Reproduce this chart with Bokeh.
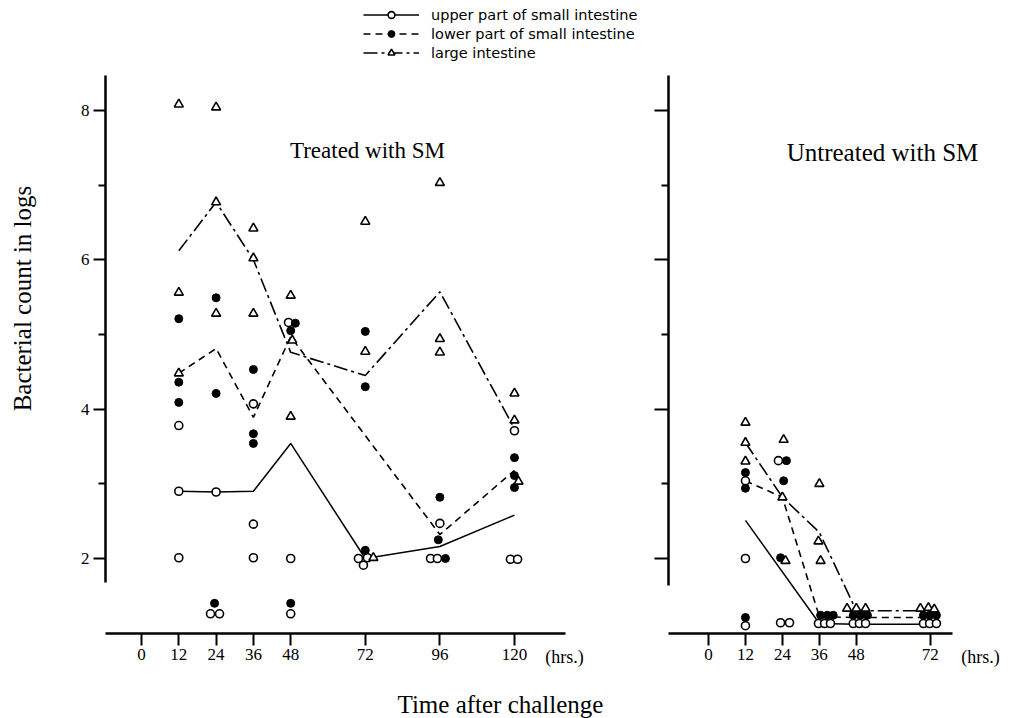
import math
from bokeh.plotting import figure
from bokeh.models import FixedTicker, Label, Legend, LegendItem, Range1d
from bokeh.layouts import row
from bokeh.embed import file_html
from bokeh.resources import INLINE

SERIF = "Liberation Serif"
SANS = "DejaVu Sans"

# ---------------- data ----------------
series_names = ["upper part of small intestine",
                "lower part of small intestine",
                "large intestine"]

# Treated with SM : mean lines
treated_hours = [12, 24, 36, 48, 72, 96, 120]
treated_upper_line = [2.90, 2.89, 2.90, 3.54, 2.00, 2.16, 2.58]
treated_lower_hours = [12, 24, 36, 48, 96, 120]
treated_lower_line = [4.48, 4.81, 3.89, 4.97, 2.32, 3.18]
treated_large_line = [6.12, 6.77, 6.00, 4.76, 4.45, 5.57, 3.74]

# Treated with SM : individual animals
treated_upper_x = [12, 12, 12, 24, 22.2, 25.1, 36, 36, 36, 47.3, 48, 48,
                   69.8, 72.7, 71.4, 93, 95.2, 96, 118.7, 121, 120]
treated_upper_y = [3.78, 2.90, 2.01, 2.89, 1.26, 1.26, 4.07, 2.46, 2.01, 5.16, 2.00, 1.26,
                   2.00, 2.01, 1.91, 2.00, 2.00, 2.47, 1.99, 1.99, 3.71]
treated_lower_x = [12, 12, 12, 24, 24, 23.5, 36, 36, 36, 49.5, 48, 48,
                   72, 72, 72, 96, 95.5, 97.8, 120, 120, 120]
treated_lower_y = [5.21, 4.36, 4.09, 5.49, 4.21, 1.40, 4.53, 3.67, 3.54, 5.15, 5.05, 1.40,
                   5.04, 4.30, 2.11, 2.82, 2.25, 2.00, 3.35, 3.11, 2.95]
treated_large_x = [12, 12, 12, 24, 24, 24, 36, 36, 36, 48, 48.5, 48,
                   72, 72, 74.6, 96, 96, 96, 120, 120, 121.3]
treated_large_y = [8.08, 5.56, 4.48, 8.04, 6.77, 5.28, 6.42, 6.02, 5.28, 5.52, 4.92, 3.90,
                   6.51, 4.77, 2.01, 7.03, 4.94, 4.76, 4.21, 3.85, 3.03]

# Untreated with SM : mean lines
untreated_upper_hours = [12, 36, 48, 72]
untreated_upper_line = [2.51, 1.13, 1.12, 1.12]
untreated_hours = [12, 24, 36, 48, 72]
untreated_lower_line = [3.04, 2.82, 1.22, 1.21, 1.21]
untreated_large_line = [3.55, 2.82, 2.35, 1.30, 1.30]

# Untreated with SM : individual animals
untreated_upper_x = [12, 12, 12, 22.7, 23.4, 26.3, 35.7, 37.7, 39.6, 47, 49, 51, 69.8, 71.8, 74]
untreated_upper_y = [3.04, 2.00, 1.10, 3.31, 1.14, 1.14, 1.13, 1.13, 1.13, 1.13, 1.13, 1.13,
                     1.13, 1.13, 1.13]
untreated_lower_x = [12, 12, 12, 25.3, 24.4, 23.4, 36.4, 38.6, 40.5, 47, 49.3, 51.6, 69.8, 71.8, 74]
untreated_lower_y = [3.15, 2.94, 1.21, 3.31, 3.04, 2.01, 1.24, 1.24, 1.24, 1.24, 1.24, 1.24,
                     1.24, 1.24, 1.24]
untreated_large_x = [12, 12, 12, 24.4, 24, 25, 36, 35.7, 36.4, 45, 48, 51, 68.8, 71.4, 73.3]
untreated_large_y = [3.82, 3.55, 3.30, 3.59, 2.82, 1.97, 3.00, 2.23, 1.97, 1.33, 1.33, 1.33,
                     1.33, 1.34, 1.32]

treated_ticks = [0, 12, 24, 36, 48, 72, 96, 120]
untreated_ticks = [0, 12, 24, 36, 48, 72]
y_major = [2, 4, 6, 8]
y_minor = [3, 5, 7]

LINE_DASH = ["solid", "7 5", "14 4 3 4"]
Y_RANGE = (-0.142, 9.470)
X_AXIS_AT = 1.0


def style(p, xticks, xbounds, yaxis_at, ybounds, show_ylabels):
    p.xgrid.grid_line_color = None
    p.ygrid.grid_line_color = None
    p.outline_line_color = None
    p.background_fill_color = "white"
    p.border_fill_color = "white"
    xa = p.xaxis[0]
    xa.fixed_location = X_AXIS_AT
    xa.ticker = FixedTicker(ticks=xticks, minor_ticks=[])
    xa.bounds = xbounds
    xa.axis_line_width = 2.5
    xa.major_tick_line_width = 2
    xa.major_tick_out = 12
    xa.major_tick_in = 0
    xa.minor_tick_line_color = None
    xa.major_label_standoff = 4
    xa.major_label_text_font = SERIF
    xa.major_label_text_font_size = "17px"
    xa.major_label_text_color = "black"

    ya = p.yaxis[0]
    ya.fixed_location = yaxis_at
    ya.ticker = FixedTicker(ticks=y_major, minor_ticks=y_minor)
    ya.bounds = ybounds
    ya.axis_line_width = 2.5
    ya.major_tick_line_width = 2
    ya.minor_tick_line_width = 2
    ya.major_tick_out = 12
    ya.major_tick_in = 0
    ya.minor_tick_out = 7
    ya.minor_tick_in = 0
    ya.major_label_text_font = SERIF
    ya.major_label_text_color = "black"
    if show_ylabels:
        ya.major_label_text_font_size = "17px"
        ya.major_label_standoff = 4
    else:
        ya.major_label_text_color = None


def draw(p, hx, upper, lhx, lower, large, ux, uy, lx, ly, gx, gy, uhx=None):
    r_u = p.line(uhx if uhx is not None else hx, upper, line_color="black",
                 line_width=1.5, line_dash=LINE_DASH[0])
    r_l = p.line(lhx, lower, line_color="black", line_width=1.6, line_dash=LINE_DASH[1])
    r_g = p.line(hx, large, line_color="black", line_width=1.6, line_dash=LINE_DASH[2])
    s_u = p.scatter(ux, uy, marker="circle", size=8, fill_color="white",
                    line_color="black", line_width=1.6)
    s_l = p.scatter(lx, ly, marker="circle", size=8, fill_color="black",
                    line_color="black", line_width=1)
    s_g = p.scatter(gx, gy, marker="triangle", size=9, fill_color="white",
                    line_color="black", line_width=1.6)
    return (r_u, s_u), (r_l, s_l), (r_g, s_g)


def text(p, x, y, s, size, align="center", angle=0.0, font=SERIF):
    p.add_layout(Label(x=x, y=y, text=s, text_font=font, text_font_size=size,
                       text_align=align, text_baseline="middle", text_color="black",
                       angle=angle))


# ---------------- treated panel ----------------
p1 = figure(width=645, height=718, output_backend="svg", toolbar_location=None,
            x_range=Range1d(-45.37, 162.16), y_range=Range1d(*Y_RANGE),
            min_border_left=0, min_border_right=0, min_border_top=0, min_border_bottom=0)
style(p1, treated_ticks, (-11.6, 136.4), -11.6, (1.68, 8.47), True)

pairs = draw(p1, treated_hours, treated_upper_line, treated_lower_hours,
             treated_lower_line, treated_large_line,
             treated_upper_x, treated_upper_y, treated_lower_x, treated_lower_y,
             treated_large_x, treated_large_y)

legend = Legend(items=[LegendItem(label=n, renderers=list(rs)) for n, rs in zip(series_names, pairs)],
                location=(363, 657), orientation="vertical",
                glyph_width=56, glyph_height=17, label_height=17, spacing=2,
                label_standoff=12, padding=0, margin=0,
                label_text_font=SANS, label_text_font_size="14.5px",
                label_text_color="black",
                border_line_color=None, background_fill_alpha=0)
p1.add_layout(legend, "center")

text(p1, 72.7, 7.46, "Treated with SM", "23px")
text(p1, 136.1, 0.675, "(hrs.)", "18px")
text(p1, 115.5, 0.04, "Time after challenge", "25px")
text(p1, -38.3, 5.48, "Bacterial count in logs", "25px", angle=math.pi / 2)

# ---------------- untreated panel ----------------
p2 = figure(width=371, height=718, output_backend="svg", toolbar_location=None,
            x_range=Range1d(-20.45, 100.0), y_range=Range1d(*Y_RANGE),
            min_border_left=0, min_border_right=0, min_border_top=0, min_border_bottom=0)
style(p2, untreated_ticks, (-13.0, 79.2), -13.0, (1.64, 8.47), False)
p2.yaxis[0].major_tick_out = 14

draw(p2, untreated_hours, untreated_upper_line, untreated_hours,
     untreated_lower_line, untreated_large_line,
     untreated_upper_x, untreated_upper_y, untreated_lower_x, untreated_lower_y,
     untreated_large_x, untreated_large_y, uhx=untreated_upper_hours)

text(p2, 56.5, 7.43, "Untreated with SM", "25px")
text(p2, 88.3, 0.675, "(hrs.)", "18px")

layout = row(p1, p2)
open("out.html", "w").write(file_html(layout, INLINE))
